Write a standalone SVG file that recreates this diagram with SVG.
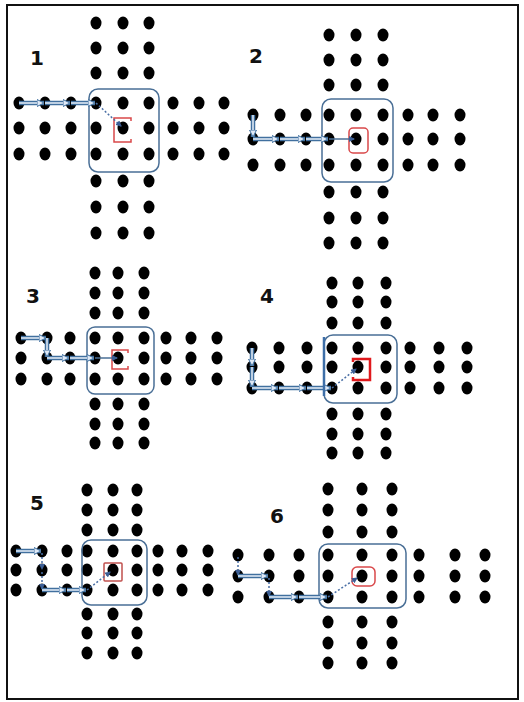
<svg xmlns="http://www.w3.org/2000/svg" xmlns:xlink="http://www.w3.org/1999/xlink" width="524" height="702" viewBox="0 0 524 702">
<style>
.lbl{font-family:"DejaVu Sans","Liberation Sans",sans-serif;font-weight:bold;font-size:20px;fill:#111;text-anchor:middle}
.box{fill:none;stroke:#4a6f96;stroke-width:1.5}
.red{fill:none;stroke:#d9484a;stroke-width:1.5}
.dbo{fill:none;stroke:#41709f;stroke-width:4.5}
.dbi{fill:none;stroke:#e8f0fa;stroke-width:1.5}
.dot{fill:none;stroke:#4a6fa5;stroke-width:1.5;stroke-dasharray:2 2}
.sol{fill:none;stroke:#4a6f96;stroke-width:1.5}
</style>
<defs>
<ellipse id="d" cx="0" cy="0" rx="5.5" ry="6.5" fill="#000"/>
<marker id="ah" markerWidth="6" markerHeight="6" refX="5" refY="3" orient="auto" markerUnits="userSpaceOnUse">
<path d="M0,0 L6,3 L0,6 Z" fill="#3d5f95"/>
</marker>
<marker id="ahd" markerWidth="8" markerHeight="8" refX="7" refY="4" orient="auto" markerUnits="userSpaceOnUse">
<path d="M0,0.5 L7,4 L0,7.5 Z" fill="#dfe9f6" stroke="#41709f" stroke-width="1"/>
</marker>
</defs>
<rect x="7" y="5" width="511" height="694" fill="#fff" stroke="#111" stroke-width="2"/>

<g id="panel1">
<text class="lbl" x="37" y="65">1</text>
<use href="#d" x="96" y="23"/><use href="#d" x="123" y="23"/><use href="#d" x="149" y="23"/>
<use href="#d" x="96" y="48"/><use href="#d" x="123" y="48"/><use href="#d" x="149" y="48"/>
<use href="#d" x="96" y="73"/><use href="#d" x="123" y="73"/><use href="#d" x="149" y="73"/>
<use href="#d" x="19" y="103"/><use href="#d" x="45" y="103"/><use href="#d" x="71" y="103"/><use href="#d" x="96" y="103"/><use href="#d" x="123" y="103"/><use href="#d" x="149" y="103"/><use href="#d" x="173" y="103"/><use href="#d" x="199" y="103"/><use href="#d" x="224" y="103"/>
<use href="#d" x="19" y="128"/><use href="#d" x="45" y="128"/><use href="#d" x="71" y="128"/><use href="#d" x="96" y="128"/><use href="#d" x="123" y="128"/><use href="#d" x="149" y="128"/><use href="#d" x="173" y="128"/><use href="#d" x="199" y="128"/><use href="#d" x="224" y="128"/>
<use href="#d" x="19" y="154"/><use href="#d" x="45" y="154"/><use href="#d" x="71" y="154"/><use href="#d" x="96" y="154"/><use href="#d" x="123" y="154"/><use href="#d" x="149" y="154"/><use href="#d" x="173" y="154"/><use href="#d" x="199" y="154"/><use href="#d" x="224" y="154"/>
<use href="#d" x="96" y="181"/><use href="#d" x="123" y="181"/><use href="#d" x="149" y="181"/>
<use href="#d" x="96" y="207"/><use href="#d" x="123" y="207"/><use href="#d" x="149" y="207"/>
<use href="#d" x="96" y="233"/><use href="#d" x="123" y="233"/><use href="#d" x="149" y="233"/>
<rect class="box" x="89" y="89" width="70" height="83" rx="9"/>
<path class="red" d="M131,121 V118 H114 V142 H131 V139"/>
</g>

<g id="panel2">
<text class="lbl" x="256" y="63">2</text>
<use href="#d" x="329" y="35"/><use href="#d" x="356" y="35"/><use href="#d" x="383" y="35"/>
<use href="#d" x="329" y="60"/><use href="#d" x="356" y="60"/><use href="#d" x="383" y="60"/>
<use href="#d" x="329" y="85"/><use href="#d" x="356" y="85"/><use href="#d" x="383" y="85"/>
<use href="#d" x="253" y="115"/><use href="#d" x="280" y="115"/><use href="#d" x="306" y="115"/><use href="#d" x="329" y="115"/><use href="#d" x="356" y="115"/><use href="#d" x="383" y="115"/><use href="#d" x="408" y="115"/><use href="#d" x="433" y="115"/><use href="#d" x="460" y="115"/>
<use href="#d" x="253" y="139"/><use href="#d" x="280" y="139"/><use href="#d" x="306" y="139"/><use href="#d" x="329" y="139"/><use href="#d" x="356" y="139"/><use href="#d" x="383" y="139"/><use href="#d" x="408" y="139"/><use href="#d" x="433" y="139"/><use href="#d" x="460" y="139"/>
<use href="#d" x="253" y="165"/><use href="#d" x="280" y="165"/><use href="#d" x="306" y="165"/><use href="#d" x="329" y="165"/><use href="#d" x="356" y="165"/><use href="#d" x="383" y="165"/><use href="#d" x="408" y="165"/><use href="#d" x="433" y="165"/><use href="#d" x="460" y="165"/>
<use href="#d" x="329" y="192"/><use href="#d" x="356" y="192"/><use href="#d" x="383" y="192"/>
<use href="#d" x="329" y="218"/><use href="#d" x="356" y="218"/><use href="#d" x="383" y="218"/>
<use href="#d" x="329" y="243"/><use href="#d" x="356" y="243"/><use href="#d" x="383" y="243"/>
<rect class="box" x="322" y="99" width="71" height="83" rx="9"/>
<rect class="red" x="349" y="128" width="19" height="25" rx="4"/>
</g>

<g id="panel3">
<text class="lbl" x="33" y="303">3</text>
<use href="#d" x="95" y="273"/><use href="#d" x="118" y="273"/><use href="#d" x="144" y="273"/>
<use href="#d" x="95" y="293"/><use href="#d" x="118" y="293"/><use href="#d" x="144" y="293"/>
<use href="#d" x="95" y="313"/><use href="#d" x="118" y="313"/><use href="#d" x="144" y="313"/>
<use href="#d" x="21" y="338"/><use href="#d" x="47" y="338"/><use href="#d" x="70" y="338"/><use href="#d" x="95" y="338"/><use href="#d" x="118" y="338"/><use href="#d" x="144" y="338"/><use href="#d" x="166" y="338"/><use href="#d" x="191" y="338"/><use href="#d" x="217" y="338"/>
<use href="#d" x="21" y="358"/><use href="#d" x="47" y="358"/><use href="#d" x="70" y="358"/><use href="#d" x="95" y="358"/><use href="#d" x="118" y="358"/><use href="#d" x="144" y="358"/><use href="#d" x="166" y="358"/><use href="#d" x="191" y="358"/><use href="#d" x="217" y="358"/>
<use href="#d" x="21" y="379"/><use href="#d" x="47" y="379"/><use href="#d" x="70" y="379"/><use href="#d" x="95" y="379"/><use href="#d" x="118" y="379"/><use href="#d" x="144" y="379"/><use href="#d" x="166" y="379"/><use href="#d" x="191" y="379"/><use href="#d" x="217" y="379"/>
<use href="#d" x="95" y="404"/><use href="#d" x="118" y="404"/><use href="#d" x="144" y="404"/>
<use href="#d" x="95" y="424"/><use href="#d" x="118" y="424"/><use href="#d" x="144" y="424"/>
<use href="#d" x="95" y="443"/><use href="#d" x="118" y="443"/><use href="#d" x="144" y="443"/>
<rect class="box" x="87" y="327" width="67" height="67" rx="8"/>
<path class="red" d="M128,353 V350 H112 V369 H128 V366"/>
</g>

<g id="panel4">
<text class="lbl" x="267" y="303">4</text>
<use href="#d" x="332" y="283"/><use href="#d" x="358" y="283"/><use href="#d" x="386" y="283"/>
<use href="#d" x="332" y="302"/><use href="#d" x="358" y="302"/><use href="#d" x="386" y="302"/>
<use href="#d" x="332" y="323"/><use href="#d" x="358" y="323"/><use href="#d" x="386" y="323"/>
<use href="#d" x="252" y="348"/><use href="#d" x="279" y="348"/><use href="#d" x="307" y="348"/><use href="#d" x="332" y="348"/><use href="#d" x="358" y="348"/><use href="#d" x="386" y="348"/><use href="#d" x="410" y="348"/><use href="#d" x="439" y="348"/><use href="#d" x="467" y="348"/>
<use href="#d" x="252" y="367"/><use href="#d" x="279" y="367"/><use href="#d" x="307" y="367"/><use href="#d" x="332" y="367"/><use href="#d" x="358" y="367"/><use href="#d" x="386" y="367"/><use href="#d" x="410" y="367"/><use href="#d" x="439" y="367"/><use href="#d" x="467" y="367"/>
<use href="#d" x="252" y="388"/><use href="#d" x="279" y="388"/><use href="#d" x="307" y="388"/><use href="#d" x="332" y="388"/><use href="#d" x="358" y="388"/><use href="#d" x="386" y="388"/><use href="#d" x="410" y="388"/><use href="#d" x="439" y="388"/><use href="#d" x="467" y="388"/>
<use href="#d" x="332" y="414"/><use href="#d" x="358" y="414"/><use href="#d" x="386" y="414"/>
<use href="#d" x="332" y="434"/><use href="#d" x="358" y="434"/><use href="#d" x="386" y="434"/>
<use href="#d" x="332" y="453"/><use href="#d" x="358" y="453"/><use href="#d" x="386" y="453"/>
<rect class="box" x="324" y="335" width="73" height="68" rx="9"/>
<path class="red" style="stroke:#e0191c;stroke-width:2.5" d="M353,362 V359 H370 V380 H353 V377"/>
</g>

<g id="panel5">
<text class="lbl" x="37" y="510">5</text>
<use href="#d" x="87" y="490"/><use href="#d" x="113" y="490"/><use href="#d" x="137" y="490"/>
<use href="#d" x="87" y="510"/><use href="#d" x="113" y="510"/><use href="#d" x="137" y="510"/>
<use href="#d" x="87" y="530"/><use href="#d" x="113" y="530"/><use href="#d" x="137" y="530"/>
<use href="#d" x="16" y="551"/><use href="#d" x="42" y="551"/><use href="#d" x="67" y="551"/><use href="#d" x="87" y="551"/><use href="#d" x="113" y="551"/><use href="#d" x="137" y="551"/><use href="#d" x="158" y="551"/><use href="#d" x="182" y="551"/><use href="#d" x="208" y="551"/>
<use href="#d" x="16" y="570"/><use href="#d" x="42" y="570"/><use href="#d" x="67" y="570"/><use href="#d" x="87" y="570"/><use href="#d" x="113" y="570"/><use href="#d" x="137" y="570"/><use href="#d" x="158" y="570"/><use href="#d" x="182" y="570"/><use href="#d" x="208" y="570"/>
<use href="#d" x="16" y="590"/><use href="#d" x="42" y="590"/><use href="#d" x="67" y="590"/><use href="#d" x="87" y="590"/><use href="#d" x="113" y="590"/><use href="#d" x="137" y="590"/><use href="#d" x="158" y="590"/><use href="#d" x="182" y="590"/><use href="#d" x="208" y="590"/>
<use href="#d" x="87" y="614"/><use href="#d" x="113" y="614"/><use href="#d" x="137" y="614"/>
<use href="#d" x="87" y="633"/><use href="#d" x="113" y="633"/><use href="#d" x="137" y="633"/>
<use href="#d" x="87" y="653"/><use href="#d" x="113" y="653"/><use href="#d" x="137" y="653"/>
<rect class="box" x="82" y="540" width="65" height="65" rx="9"/>
<rect class="red" style="stroke:#c0504d" x="104" y="563" width="18" height="18" rx="1"/>
</g>

<g id="panel6">
<text class="lbl" x="277" y="523">6</text>
<use href="#d" x="328" y="489"/><use href="#d" x="362" y="489"/><use href="#d" x="392" y="489"/>
<use href="#d" x="328" y="510"/><use href="#d" x="362" y="510"/><use href="#d" x="392" y="510"/>
<use href="#d" x="328" y="532"/><use href="#d" x="362" y="532"/><use href="#d" x="392" y="532"/>
<use href="#d" x="238" y="555"/><use href="#d" x="269" y="555"/><use href="#d" x="299" y="555"/><use href="#d" x="328" y="555"/><use href="#d" x="362" y="555"/><use href="#d" x="392" y="555"/><use href="#d" x="419" y="555"/><use href="#d" x="455" y="555"/><use href="#d" x="485" y="555"/>
<use href="#d" x="238" y="576"/><use href="#d" x="269" y="576"/><use href="#d" x="299" y="576"/><use href="#d" x="328" y="576"/><use href="#d" x="362" y="576"/><use href="#d" x="392" y="576"/><use href="#d" x="419" y="576"/><use href="#d" x="455" y="576"/><use href="#d" x="485" y="576"/>
<use href="#d" x="238" y="597"/><use href="#d" x="269" y="597"/><use href="#d" x="299" y="597"/><use href="#d" x="328" y="597"/><use href="#d" x="362" y="597"/><use href="#d" x="392" y="597"/><use href="#d" x="419" y="597"/><use href="#d" x="455" y="597"/><use href="#d" x="485" y="597"/>
<use href="#d" x="328" y="622"/><use href="#d" x="362" y="622"/><use href="#d" x="392" y="622"/>
<use href="#d" x="328" y="643"/><use href="#d" x="362" y="643"/><use href="#d" x="392" y="643"/>
<use href="#d" x="328" y="663"/><use href="#d" x="362" y="663"/><use href="#d" x="392" y="663"/>
<rect class="box" x="319" y="544" width="87" height="64" rx="9"/>
<rect class="red" x="352" y="567" width="23" height="19" rx="5"/>
</g>

<g id="connectors">
<g>
<path class="dbo" d="M19,103 H44"/><path class="dbi" d="M19,103 H44" marker-end="url(#ahd)"/>
<path class="dbo" d="M45,103 H70"/><path class="dbi" d="M45,103 H70" marker-end="url(#ahd)"/>
<path class="dbo" d="M71,103 H95"/><path class="dbi" d="M71,103 H95" marker-end="url(#ahd)"/>
<path class="dot" d="M96,103 L121,126" marker-end="url(#ah)"/>
</g>
<g>
<path class="dbo" d="M253,115 V137"/><path class="dbi" d="M253,115 V137" marker-end="url(#ahd)"/>
<path class="dbo" d="M253,139 H279"/><path class="dbi" d="M253,139 H279" marker-end="url(#ahd)"/>
<path class="dbo" d="M280,139 H305"/><path class="dbi" d="M280,139 H305" marker-end="url(#ahd)"/>
<path class="dbo" d="M306,139 H328"/><path class="dbi" d="M306,139 H328" marker-end="url(#ahd)"/>
<path class="sol" d="M329,139 H354" marker-end="url(#ah)"/>
</g>
<g>
<path class="dbo" d="M21,338 H46"/><path class="dbi" d="M21,338 H46" marker-end="url(#ahd)"/>
<path class="dbo" d="M47,338 V357"/><path class="dbi" d="M47,338 V357" marker-end="url(#ahd)"/>
<path class="dbo" d="M47,358 H69"/><path class="dbi" d="M47,358 H69" marker-end="url(#ahd)"/>
<path class="dbo" d="M70,358 H94"/><path class="dbi" d="M70,358 H94" marker-end="url(#ahd)"/>
<path class="sol" d="M95,358 H117" marker-end="url(#ah)"/>
</g>
<g>
<path class="dbo" d="M252,348 V366"/><path class="dbi" d="M252,348 V366" marker-end="url(#ahd)"/>
<path class="dbo" d="M252,367 V387"/><path class="dbi" d="M252,367 V387" marker-end="url(#ahd)"/>
<path class="dbo" d="M252,388 H278"/><path class="dbi" d="M252,388 H278" marker-end="url(#ahd)"/>
<path class="dbo" d="M279,388 H306"/><path class="dbi" d="M279,388 H306" marker-end="url(#ahd)"/>
<path class="dbo" d="M307,388 H331"/><path class="dbi" d="M307,388 H331" marker-end="url(#ahd)"/>
<path d="M324,337 V396" stroke="#3e6fa8" stroke-width="2.5" fill="none"/>
<path class="dot" d="M332,388 L356,369" marker-end="url(#ah)"/>
</g>
<g>
<path class="dbo" d="M16,551 H41"/><path class="dbi" d="M16,551 H41" marker-end="url(#ahd)"/>
<path class="dot" d="M42,553 V569" marker-end="url(#ah)"/>
<path class="dot" d="M42,572 V589" marker-end="url(#ah)"/>
<path class="dbo" d="M42,590 H66"/><path class="dbi" d="M42,590 H66" marker-end="url(#ahd)"/>
<path class="dbo" d="M67,590 H86"/><path class="dbi" d="M67,590 H86" marker-end="url(#ahd)"/>
<path class="dot" d="M87,590 L110,572" marker-end="url(#ah)"/>
</g>
<g>
<path class="dot" d="M238,557 V575" marker-end="url(#ah)"/>
<path class="dbo" d="M238,576 H268"/><path class="dbi" d="M238,576 H268" marker-end="url(#ahd)"/>
<path class="dot" d="M269,578 V596" marker-end="url(#ah)"/>
<path class="dbo" d="M269,597 H298"/><path class="dbi" d="M269,597 H298" marker-end="url(#ahd)"/>
<path class="dbo" d="M299,597 H327"/><path class="dbi" d="M299,597 H327" marker-end="url(#ahd)"/>
<path class="dot" d="M328,597 L357,578" marker-end="url(#ah)"/>
</g>
</g>
</svg>
